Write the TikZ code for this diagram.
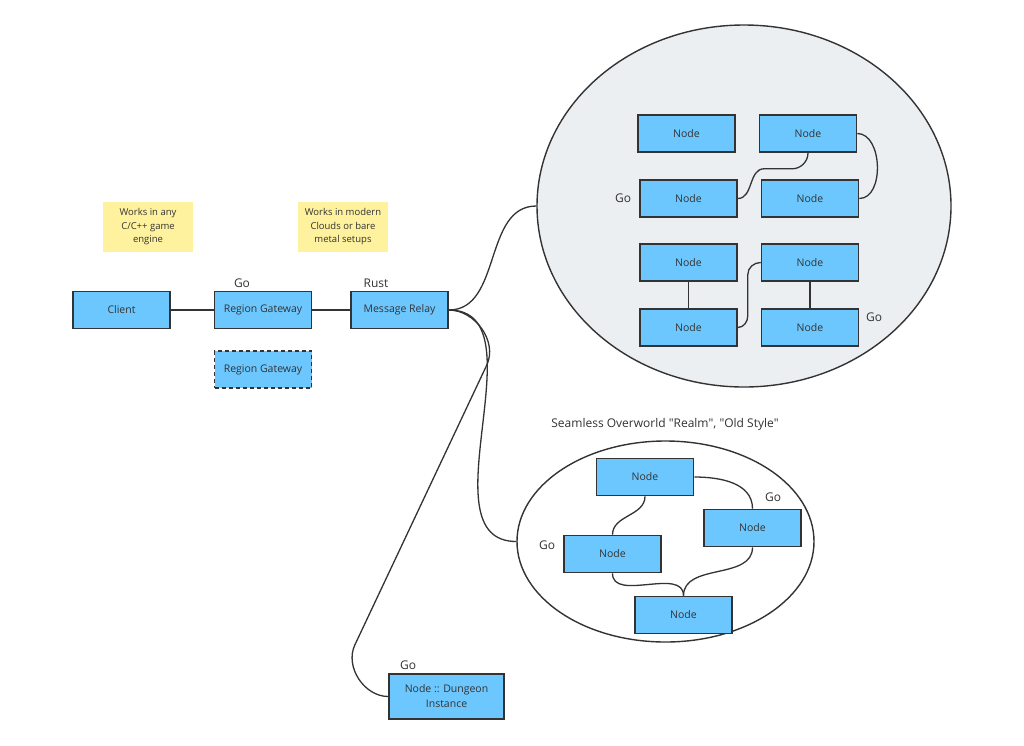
\documentclass[tikz,border=0pt]{standalone}
\usepackage{fontspec}
\setmainfont{Open Sans}
\usepackage{tikz}
\usetikzlibrary{positioning}
\usetikzlibrary{shapes.geometric}
\definecolor{nodeblue}{RGB}{108,199,255}
\definecolor{linegray}{RGB}{51,51,51}
\definecolor{zonegray}{RGB}{236,239,242}
\definecolor{notepale}{RGB}{255,242,158}
\tikzstyle{service} = [rectangle, draw=linegray, fill=nodeblue, line width=1.6pt, minimum width=97pt, minimum height=37pt, inner sep=0pt, text=linegray, font=\fontsize{10.5}{15}\selectfont, align=center]
\tikzstyle{note} = [rectangle, fill=notepale, minimum width=90pt, minimum height=50pt, inner sep=0pt, text=linegray, font=\fontsize{9.5}{13.5}\selectfont, align=center]
\tikzstyle{zone} = [ellipse, draw=linegray, line width=1.4pt, inner sep=0pt]
\tikzstyle{tag} = [text=linegray, font=\fontsize{12}{14}\selectfont, inner sep=0pt]
\tikzstyle{link} = [draw=linegray, line width=1.3pt]

\begin{document}
\begin{tikzpicture}[x=1pt, y=1pt]

\fill[white] (0,0) rectangle (1024,-745);
\useasboundingbox (0,0) rectangle (1024,-745);

% the two clusters
\node (cluster) [zone, fill=zonegray, minimum width=414pt, minimum height=362pt] at (744,-206) {};
\node (overworld) [zone, fill=white, minimum width=297pt, minimum height=201pt] at (665.5,-541.5) {};
\node (overworldTitle) [tag] at (665,-424) {Seamless Overworld \textquotedbl Realm\textquotedbl, \textquotedbl Old Style\textquotedbl};

% notes
\node (engineNote) [note] at (148,-227) {Works in any\\C/C++ game\\engine};
\node (cloudNote) [note] at (343,-227) {Works in modern\\Clouds or bare\\metal setups};

% main chain
\node (client) [service] at (121.5,-310) {Client};
\node (gateway) [service] at (263,-310) {Region Gateway};
\node (relay) [service] at (399.5,-310) {Message Relay};
\node (gatewaySpare) [service, dashed, dash pattern=on 4pt off 3pt] at (263,-369.5) {Region Gateway};
\node (dungeon) [service, minimum width=115pt, minimum height=45pt] at (446.5,-696.5) {Node :: Dungeon\\Instance};

\node (goGateway) [tag] at (242,-283) {Go};
\node (rustRelay) [tag] at (376,-283) {Rust};
\node (goDungeon) [tag] at (408,-665) {Go};

% nodes in the grid cluster
\node (gridA) [service] at (686.5,-133.5) {Node};
\node (gridB) [service] at (808,-133.5) {Node};
\node (gridC) [service] at (688.5,-198.5) {Node};
\node (gridD) [service] at (810,-198.5) {Node};
\node (gridE) [service] at (688.5,-262.5) {Node};
\node (gridF) [service] at (810,-262.5) {Node};
\node (gridG) [service] at (688.5,-327.5) {Node};
\node (gridH) [service] at (810,-327.5) {Node};
\node (goGridC) [tag] at (623,-198) {Go};
\node (goGridH) [tag] at (874,-317) {Go};

% nodes in the overworld
\node (worldTop) [service] at (645,-477) {Node};
\node (worldRight) [service] at (752.5,-528) {Node};
\node (worldLeft) [service] at (612.5,-554) {Node};
\node (worldBottom) [service] at (683.5,-615) {Node};
\node (goWorldRight) [tag] at (773,-497) {Go};
\node (goWorldLeft) [tag] at (547,-545) {Go};

% connectors
\draw[link] (client) -- (gateway);
\draw[link] (gateway) -- (relay);
\draw[link] (relay.east) to[out=0,in=180] (cluster.west);
\draw[link] (relay.east) to[out=0,in=180] (overworld.west);
\draw[link] (relay.east) to[out=0,in=65] ++(38,-55) -- ++(-132,-280) to[out=-115,in=180] (dungeon.west);

\draw[link] (gridB.south) to[out=-90,in=0] ++(-16,-16) -- ++(-28,0) to[out=180,in=0] (gridC.east);
\draw[link] (gridB.east) to[out=0,in=0] (gridD.east);
\draw[link] (gridE) -- (gridG);
\draw[link] (gridF) -- (gridH);
\draw[link] (gridG.east) to[out=0,in=-90] ++(10,12) -- ++(0,41) to[out=90,in=180] (gridF.west);

\draw[link] (worldTop.south) to[out=-90,in=90] (worldLeft.north);
\draw[link] (worldTop.east) to[out=0,in=90] (worldRight.north);
\draw[link] (worldLeft.south) to[out=-90,in=90] (worldBottom.north);
\draw[link] (worldRight.south) to[out=-90,in=90] (worldBottom.north);

\end{tikzpicture}
\end{document}
